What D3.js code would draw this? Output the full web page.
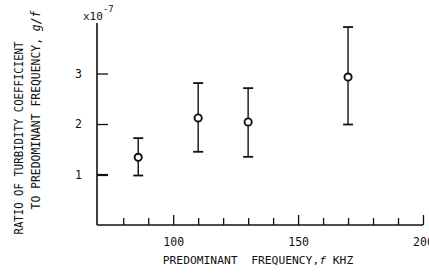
<!DOCTYPE html>
<html>
<head>
	<title>Turbidity coefficient vs predominant frequency</title>
	<meta charset="utf-8" />
	<script src="https://d3js.org/d3.v7.min.js" charset="utf-8"></script>
<style>
	body { margin: 0; background: #fff; }
	text { font-family: "DejaVu Sans Mono", "Liberation Mono", monospace; fill: #111; }
	.axis path, .axis line { stroke: #111; }
</style>
</head>
<body>
<script>
// datos
var freq = [86, 110, 130, 170];
var ratio = [1.34, 2.12, 2.04, 2.93];
var errLow = [0.98, 1.45, 1.35, 1.99];
var errHigh = [1.72, 2.81, 2.71, 3.92];

var xTicks = [80, 90, 100, 110, 120, 130, 140, 150, 160, 170, 180, 190, 200];
var xLabels = [100, 150, 200];
var yTicks = [1, 2, 3];

var svg = d3.select("body")
	.append("svg")
	.attr("width", 429)
	.attr("height", 276);

var margin = {top: 23, right: 6, bottom: 51, left: 97},
	width = +svg.attr("width") - margin.left - margin.right,
	height = +svg.attr("height") - margin.top - margin.bottom,
	g = svg.append("g").attr("transform", "translate(" + margin.left + "," + margin.top + ")");

var x = d3.scaleLinear().domain([69.5, 200]).range([0, 326]);
var y = d3.scaleLinear().domain([0, 4]).range([height, 0]);

// EJE X (ticks hacia dentro)
var gx = g.append("g")
	.attr("class", "axis")
	.attr("transform", "translate(0," + height + ")")
	.call(d3.axisBottom(x)
		.tickValues(xTicks)
		.tickSize(-7)
		.tickFormat(function (d) { return xLabels.indexOf(d) >= 0 ? d : ""; }));
gx.select(".domain").attr("d", "M0,0H" + x(200)).attr("stroke-width", 1.6);
gx.selectAll(".tick line")
	.attr("stroke-width", 1.3)
	.attr("y2", function (d) { return xLabels.indexOf(d) >= 0 ? -10 : -7; });
gx.selectAll(".tick text")
	.attr("y", 13)
	.style("font-size", "11.5px");

// EJE Y
var gy = g.append("g")
	.attr("class", "axis")
	.call(d3.axisLeft(y)
		.tickValues(yTicks)
		.tickSize(-11)
		.tickFormat(d3.format("d")));
gy.select(".domain").attr("d", "M0," + height + "V0").attr("stroke-width", 1.6);
gy.selectAll(".tick line").attr("stroke-width", function (d) { return d == 1 ? 2.2 : 1.3; });
gy.selectAll(".tick text")
	.attr("x", -15)
	.style("font-size", "11.5px");

// x10^-7
var mult = g.append("text")
	.attr("x", -14)
	.attr("y", -3)
	.style("font-size", "11px");
mult.append("tspan").text("x10");
mult.append("tspan").attr("dy", -8).style("font-size", "9px").text("-7");

// Barras de error
var eb = g.selectAll(".err")
	.data(freq)
	.enter().append("g")
	.attr("class", "err");

eb.append("line")
	.attr("x1", function (d) { return x(d); })
	.attr("x2", function (d) { return x(d); })
	.attr("y1", function (d, i) { return y(errLow[i]); })
	.attr("y2", function (d, i) { return y(errHigh[i]); })
	.attr("stroke", "#111")
	.attr("stroke-width", 1.4);

eb.append("line")
	.attr("x1", function (d) { return x(d) - 5; })
	.attr("x2", function (d) { return x(d) + 5; })
	.attr("y1", function (d, i) { return y(errHigh[i]); })
	.attr("y2", function (d, i) { return y(errHigh[i]); })
	.attr("stroke", "#111")
	.attr("stroke-width", 1.8);

eb.append("line")
	.attr("x1", function (d) { return x(d) - 5; })
	.attr("x2", function (d) { return x(d) + 5; })
	.attr("y1", function (d, i) { return y(errLow[i]); })
	.attr("y2", function (d, i) { return y(errLow[i]); })
	.attr("stroke", "#111")
	.attr("stroke-width", 1.8);

// Puntos
g.selectAll(".pt")
	.data(freq)
	.enter().append("circle")
	.attr("class", "pt")
	.attr("cx", function (d) { return x(d); })
	.attr("cy", function (d, i) { return y(ratio[i]); })
	.attr("r", 3.6)
	.attr("fill", "#fff")
	.attr("stroke", "#111")
	.attr("stroke-width", 1.9);

// Titulo eje X
var tx = svg.append("text")
	.attr("x", 258)
	.attr("y", 264)
	.attr("text-anchor", "middle")
	.style("font-size", "11.3px")
	.attr("xml:space", "preserve");
tx.append("tspan").text("PREDOMINANT  FREQUENCY,");
tx.append("tspan").style("font-style", "italic").text("f");
tx.append("tspan").text(" KHZ");

// Titulo eje Y (dos lineas)
svg.append("text")
	.attr("transform", "translate(23,138) rotate(-90)")
	.attr("text-anchor", "middle")
	.style("font-size", "11.5px")
	.attr("textLength", 193)
	.attr("lengthAdjust", "spacingAndGlyphs")
	.text("RATIO OF TURBIDITY COEFFICIENT");

var ty = svg.append("text")
	.attr("transform", "translate(40,110) rotate(-90)")
	.attr("text-anchor", "middle")
	.style("font-size", "11.4px");
ty.append("tspan").text("TO PREDOMINANT FREQUENCY, ");
ty.append("tspan").style("font-style", "italic").text("g/f");
</script>
</body>
</html>
